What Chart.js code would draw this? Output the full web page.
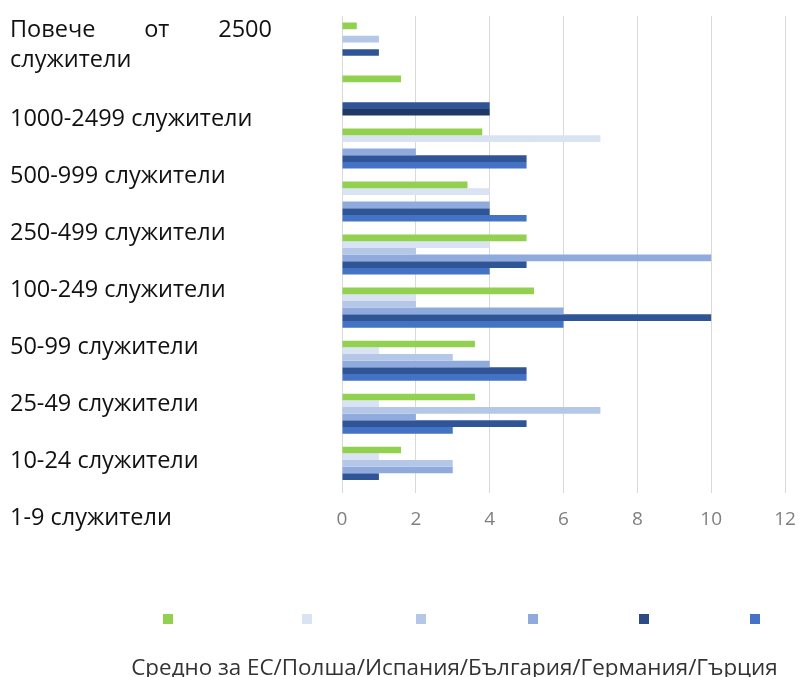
<!DOCTYPE html>
<html>
<head>
<meta charset="utf-8">
<script src="https://cdn.jsdelivr.net/npm/chart.js@4"></script>
<style>
  html, body { margin: 0; padding: 0; background: #fff; }
  #wrap { position: relative; width: 809px; height: 677px; overflow: hidden; font-family: "Open Sans", sans-serif; }
  #c { position: absolute; left: 0; top: 0; }
  .lbl { position: absolute; left: 10px; font-size: 23.5px; line-height: 30px; color: #111; white-space: nowrap; }
  .lbl.wrapj { white-space: normal; width: 262px; text-align: justify; text-align-last: left; }
  .sq { position: absolute; width: 10px; height: 10px; }
  #foot { position: absolute; left: 0; width: 909px; top: 652px; text-align: center; font-size: 22.4px; line-height: 30px; color: #333; }
</style>
</head>
<body>
<div id="wrap">
  <canvas id="c" width="809" height="677"></canvas>
</div>
<script>
// ---- data ----
const categories = ['Повече от 2500 служители', '1000-2499 служители', '500-999 служители', '250-499 служители', '100-249 служители', '50-99 служители', '25-49 служители', '10-24 служители', '1-9 служители'];
const seriesNames = ['Средно за ЕС', 'Полша', 'Испания', 'България', 'Германия', 'Гърция'];
const euAverage = [0.4, 1.6, 3.8, 3.4, 5, 5.2, 3.6, 3.6, 1.6];
const poland    = [0, 0, 7, 4, 4, 2, 1, 1, 1];
const spain     = [1, 0, 0, 0, 2, 2, 3, 7, 3];
const bulgaria  = [0, 0, 2, 4, 10, 6, 4, 2, 3];
const germany   = [1, 4, 5, 4, 5, 10, 5, 5, 1];
const greece    = [0, 4, 5, 5, 4, 6, 5, 3, 0];
const xTickValues = [0, 2, 4, 6, 8, 10, 12];
const footerText = 'Средно за ЕС/Полша/Испания/България/Германия/Гърция';

// ---- styles ----
const colors = ['#92d050', '#dae3f3', '#b4c7e7', '#8faadc', '#2f5597', '#4472c4'];
const seriesValues = [euAverage, poland, spain, bulgaria, germany, greece];

const datasets = seriesValues.map((vals, i) => ({
  label: seriesNames[i],
  data: vals,
  backgroundColor: i === 5 ? (ctx => ctx.dataIndex === 1 ? '#203864' : colors[5]) : colors[i],
  borderWidth: 0,
  categoryPercentage: 0.755,
  barPercentage: 1.0
}));

new Chart(document.getElementById('c'), {
  type: 'bar',
  data: { labels: categories, datasets },
  options: {
    indexAxis: 'y',
    responsive: false,
    animation: false,
    devicePixelRatio: 1,
    layout: { padding: { left: 342, right: 24, top: 16, bottom: 131 } },
    plugins: { legend: { display: false }, tooltip: { enabled: false } },
    scales: {
      y: { display: false },
      x: {
        min: 0, max: 12,
        afterBuildTicks: s => { s.ticks = xTickValues.map(v => ({ value: v })); },
        afterFit: s => { s.paddingLeft = 0; s.paddingRight = 0; },
        grid: { color: '#d9d9d9', lineWidth: 1, drawTicks: false },
        border: { display: false },
        ticks: { color: '#7f7f7f', padding: 15, font: { family: 'Open Sans', size: 19 } }
      }
    }
  }
});

// ---- category labels (text beside the plot) ----
const wrap = document.getElementById('wrap');
const labelCenters = [28, 117, 174, 231, 288, 345, 402, 459, 516];
categories.forEach((t, i) => {
  const d = document.createElement('div');
  d.className = 'lbl' + (i === 0 ? ' wrapj' : '');
  d.textContent = t;
  d.style.top = (labelCenters[i] - 15) + 'px';
  wrap.appendChild(d);
});

// ---- legend squares ----
const legendX = [168, 307, 421, 533, 644, 755];
colors.forEach((c, i) => {
  const s = document.createElement('div');
  s.className = 'sq';
  s.style.background = i === 4 ? '#2f4b85' : c;
  s.style.left = (legendX[i] - 5) + 'px';
  s.style.top = (619 - 5) + 'px';
  s.title = seriesNames[i];
  wrap.appendChild(s);
});

const f = document.createElement('div');
f.id = 'foot';
f.textContent = footerText;
wrap.appendChild(f);
</script>
</body>
</html>
